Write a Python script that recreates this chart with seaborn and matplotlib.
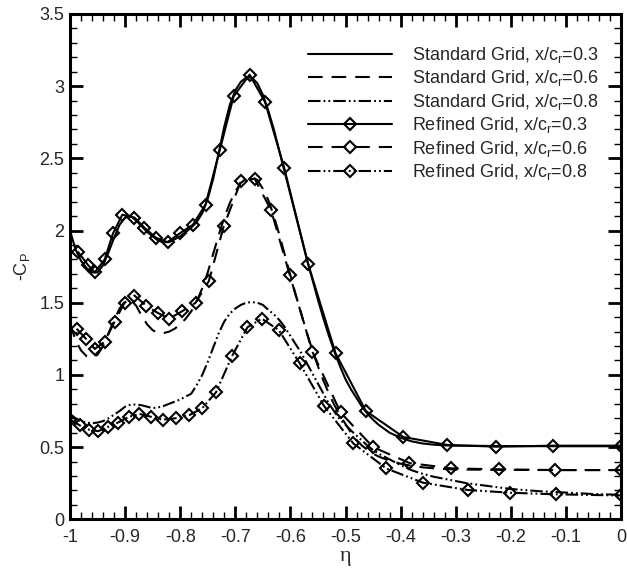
import matplotlib
matplotlib.use("Agg")
import matplotlib.pyplot as plt
import seaborn as sns
from matplotlib.lines import Line2D
from matplotlib.ticker import MultipleLocator, FuncFormatter

# ---- spanwise pressure coefficient distributions ----
# standard grid (lines only)
std_03_eta = [-1.000, -0.990, -0.980, -0.970, -0.960, -0.950, -0.940, -0.930, -0.920, -0.910,
              -0.900, -0.890, -0.880, -0.870, -0.860, -0.850, -0.840, -0.830, -0.820, -0.810,
              -0.800, -0.790, -0.780, -0.770, -0.760, -0.750, -0.740, -0.730, -0.720, -0.710,
              -0.700, -0.690, -0.680, -0.670, -0.660, -0.650, -0.640, -0.630, -0.620, -0.610,
              -0.600, -0.590, -0.580, -0.570, -0.560, -0.550, -0.540, -0.530, -0.520, -0.510,
              -0.500, -0.490, -0.480, -0.470, -0.460, -0.450, -0.440, -0.420, -0.400, -0.380,
              -0.360, -0.340, -0.320, -0.300, -0.200, -0.100, 0.000]
std_03_cp = [2.00, 1.87, 1.79, 1.74, 1.71, 1.71, 1.76, 1.85, 1.95, 2.04,
             2.09, 2.10, 2.07, 2.03, 1.99, 1.96, 1.93, 1.92, 1.92, 1.94,
             1.96, 1.99, 2.02, 2.06, 2.12, 2.22, 2.36, 2.54, 2.72, 2.87,
             2.97, 3.03, 3.06, 3.06, 3.02, 2.94, 2.83, 2.70, 2.55, 2.40,
             2.25, 2.10, 1.95, 1.80, 1.66, 1.52, 1.39, 1.27, 1.16, 1.06,
             0.97, 0.90, 0.84, 0.78, 0.73, 0.69, 0.655, 0.60, 0.565, 0.54,
             0.525, 0.517, 0.512, 0.510, 0.507, 0.506, 0.506]

std_06_eta = [-1.000, -0.990, -0.980, -0.970, -0.960, -0.950, -0.940, -0.930, -0.920, -0.910,
              -0.900, -0.890, -0.880, -0.870, -0.860, -0.850, -0.840, -0.830, -0.820, -0.810,
              -0.800, -0.790, -0.780, -0.770, -0.760, -0.750, -0.740, -0.730, -0.720, -0.710,
              -0.700, -0.690, -0.680, -0.670, -0.660, -0.650, -0.640, -0.630, -0.620, -0.610,
              -0.600, -0.590, -0.580, -0.570, -0.560, -0.550, -0.540, -0.530, -0.520, -0.510,
              -0.500, -0.490, -0.480, -0.470, -0.460, -0.450, -0.440, -0.420, -0.400, -0.380,
              -0.360, -0.330, -0.300, -0.200, -0.100, 0.000]
std_06_cp = [1.36, 1.24, 1.17, 1.13, 1.12, 1.14, 1.20, 1.29, 1.38, 1.46,
             1.51, 1.52, 1.48, 1.41, 1.35, 1.31, 1.29, 1.29, 1.30, 1.32,
             1.35, 1.39, 1.44, 1.51, 1.60, 1.71, 1.84, 1.97, 2.09, 2.19,
             2.27, 2.33, 2.36, 2.37, 2.35, 2.29, 2.21, 2.10, 1.97, 1.83,
             1.69, 1.55, 1.42, 1.29, 1.17, 1.06, 0.96, 0.87, 0.79, 0.72,
             0.66, 0.60, 0.55, 0.51, 0.48, 0.455, 0.435, 0.405, 0.385, 0.37,
             0.36, 0.35, 0.345, 0.342, 0.341, 0.341]

std_08_eta = [-1.000, -0.990, -0.980, -0.970, -0.960, -0.950, -0.940, -0.930, -0.920, -0.910,
              -0.900, -0.890, -0.880, -0.870, -0.860, -0.850, -0.840, -0.830, -0.820, -0.810,
              -0.800, -0.790, -0.780, -0.770, -0.760, -0.750, -0.740, -0.730, -0.720, -0.710,
              -0.700, -0.690, -0.680, -0.670, -0.660, -0.650, -0.640, -0.630, -0.620, -0.610,
              -0.600, -0.590, -0.580, -0.570, -0.560, -0.550, -0.540, -0.530, -0.520, -0.510,
              -0.500, -0.490, -0.480, -0.470, -0.460, -0.450, -0.440, -0.430, -0.420, -0.400,
              -0.380, -0.360, -0.340, -0.320, -0.300, -0.280, -0.250, -0.200, -0.150, -0.100,
              -0.050, 0.000]
std_08_cp = [0.73, 0.70, 0.68, 0.67, 0.665, 0.67, 0.68, 0.70, 0.725, 0.75,
             0.78, 0.795, 0.795, 0.79, 0.78, 0.77, 0.775, 0.785, 0.80, 0.815,
             0.83, 0.85, 0.87, 0.93, 1.00, 1.09, 1.19, 1.29, 1.37, 1.425,
             1.46, 1.485, 1.50, 1.505, 1.50, 1.485, 1.45, 1.42, 1.38, 1.33,
             1.27, 1.21, 1.15, 1.08, 1.01, 0.94, 0.87, 0.80, 0.745, 0.69,
             0.655, 0.615, 0.58, 0.545, 0.51, 0.48, 0.455, 0.435, 0.415, 0.375,
             0.34, 0.315, 0.295, 0.28, 0.265, 0.25, 0.235, 0.21, 0.195, 0.185,
             0.175, 0.17]

# refined grid (lines with diamond symbols)
ref_03_eta = [-0.985, -0.967, -0.955, -0.937, -0.922, -0.905, -0.883, -0.865, -0.844, -0.823,
              -0.801, -0.777, -0.754, -0.728, -0.703, -0.674, -0.646, -0.611, -0.568, -0.518,
              -0.463, -0.395, -0.315, -0.226, -0.123, 0.000]
ref_03_cp = [1.85, 1.76, 1.71, 1.80, 1.98, 2.11, 2.09, 2.02, 1.95, 1.92,
             1.98, 2.04, 2.18, 2.56, 2.93, 3.08, 2.89, 2.43, 1.77, 1.15,
             0.75, 0.57, 0.515, 0.503, 0.510, 0.510]

ref_06_eta = [-0.988, -0.971, -0.955, -0.937, -0.919, -0.901, -0.883, -0.862, -0.841, -0.820,
              -0.797, -0.772, -0.748, -0.721, -0.690, -0.665, -0.635, -0.601, -0.560, -0.509,
              -0.450, -0.384, -0.309, -0.222, -0.120, 0.000]
ref_06_cp = [1.32, 1.25, 1.18, 1.23, 1.37, 1.50, 1.55, 1.48, 1.43, 1.39,
             1.44, 1.50, 1.65, 2.03, 2.34, 2.36, 2.14, 1.69, 1.16, 0.74,
             0.50, 0.39, 0.353, 0.346, 0.341, 0.341]

ref_08_eta = [-1.000, -0.982, -0.965, -0.949, -0.931, -0.913, -0.893, -0.874, -0.853, -0.832,
              -0.808, -0.784, -0.760, -0.735, -0.706, -0.678, -0.652, -0.621, -0.583, -0.539,
              -0.486, -0.426, -0.359, -0.278, -0.201, -0.118, 0.000]
ref_08_cp = [0.69, 0.65, 0.62, 0.61, 0.64, 0.67, 0.71, 0.73, 0.71, 0.69,
             0.70, 0.72, 0.77, 0.88, 1.13, 1.33, 1.39, 1.31, 1.08, 0.785,
             0.526, 0.352, 0.253, 0.203, 0.184, 0.173, 0.165]

labels = [
    "Standard Grid, x/c$_\\mathregular{r}$=0.3",
    "Standard Grid, x/c$_\\mathregular{r}$=0.6",
    "Standard Grid, x/c$_\\mathregular{r}$=0.8",
    "Refined Grid, x/c$_\\mathregular{r}$=0.3",
    "Refined Grid, x/c$_\\mathregular{r}$=0.6",
    "Refined Grid, x/c$_\\mathregular{r}$=0.8",
]

# ---- styling ----
sns.set_style("ticks")
plt.rcParams["font.family"] = ["Liberation Sans", "DejaVu Sans"]
plt.rcParams["axes.unicode_minus"] = False
plt.rcParams["mathtext.fontset"] = "custom"
plt.rcParams["mathtext.rm"] = "Liberation Sans"
plt.rcParams["lines.scale_dashes"] = False

SOLID = "-"
DASHED = (0, (10.5, 6.5))
DASHDOTDOT = (0, (9.0, 2.2, 1.3, 2.2, 1.3, 2.2))
LW = 1.5
MS = 6.6
MEW = 1.5

fig = plt.figure(figsize=(6.27, 5.69), dpi=100)
# plotting area leaves a few pixels on the right so the "0" label fits
ax = fig.add_axes([70 / 627, 49.7 / 569, 551 / 627, 505.3 / 569])

series = [
    (std_03_eta, std_03_cp, SOLID, None),
    (std_06_eta, std_06_cp, DASHED, None),
    (std_08_eta, std_08_cp, DASHDOTDOT, None),
    (ref_03_eta, ref_03_cp, SOLID, "D"),
    (ref_06_eta, ref_06_cp, DASHED, "D"),
    (ref_08_eta, ref_08_cp, DASHDOTDOT, "D"),
]

handles = []
for eta, cp, ls, mk in series:
    kw = dict(color="black", linewidth=LW, linestyle=ls)
    if mk is not None:
        kw.update(marker=mk, markersize=MS, markerfacecolor="none",
                  markeredgecolor="black", markeredgewidth=MEW)
    sns.lineplot(x=eta, y=cp, ax=ax, estimator=None, sort=False, **kw)
    handles.append(Line2D([], [], **kw))

ax.set_xlim(-1, 0)
ax.set_ylim(0, 3.5)

fmt = FuncFormatter(lambda v, p: "%g" % (round(v, 2) + 0.0))
ax.xaxis.set_major_locator(MultipleLocator(0.1))
ax.xaxis.set_minor_locator(MultipleLocator(0.02))
ax.yaxis.set_major_locator(MultipleLocator(0.5))
ax.yaxis.set_minor_locator(MultipleLocator(0.1))
ax.xaxis.set_major_formatter(fmt)
ax.yaxis.set_major_formatter(fmt)

ax.tick_params(which="both", direction="in", top=True, right=True,
               labeltop=False, labelright=False, color="black")
ax.tick_params(which="major", length=9.4, width=2.0, labelsize=13)
ax.tick_params(which="minor", length=4.7, width=1.0)
ax.tick_params(axis="x", which="major", pad=7)
ax.tick_params(axis="y", which="major", pad=4)
for s in ax.spines.values():
    s.set_linewidth(2.2)
    s.set_color("black")

ax.set_xlabel("η", fontfamily="Liberation Serif", fontsize=16, labelpad=1)
ax.set_ylabel("-C$_\\mathregular{P}$", fontsize=13, labelpad=5)

ax.legend(handles, labels, loc="upper left",
          bbox_to_anchor=(308 / 627, 1 - 45 / 569), bbox_transform=fig.transFigure,
          frameon=False, handlelength=4.67, handletextpad=1.1, labelspacing=0.19,
          borderpad=0, borderaxespad=0, fontsize=13, numpoints=1)

fig.savefig("out.png", dpi=100)
